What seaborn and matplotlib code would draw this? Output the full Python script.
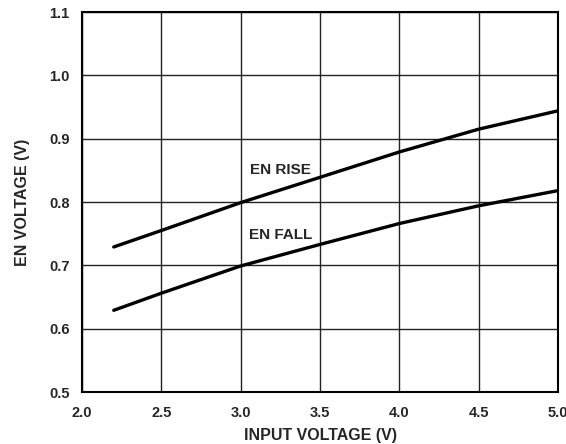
import numpy as np
import pandas as pd
import matplotlib
matplotlib.use("Agg")
import matplotlib.pyplot as plt
import seaborn as sns

# datos
input_voltage = [2.2, 2.5, 3.0, 3.5, 4.0, 4.5, 5.0]
en_rise = [0.729, 0.755, 0.799, 0.839, 0.879, 0.915, 0.944]
en_fall = [0.629, 0.656, 0.699, 0.733, 0.766, 0.794, 0.818]

x_ticks = [2.0, 2.5, 3.0, 3.5, 4.0, 4.5, 5.0]
y_ticks = [0.5, 0.6, 0.7, 0.8, 0.9, 1.0, 1.1]

df = pd.DataFrame({
    "vin": input_voltage * 2,
    "ven": en_rise + en_fall,
    "curva": ["EN RISE"] * len(en_rise) + ["EN FALL"] * len(en_fall),
})

sns.set_style("white")
plt.rcParams["font.family"] = ["Liberation Sans", "DejaVu Sans"]
plt.rcParams["font.weight"] = "bold"

fig, ax = plt.subplots(figsize=(5.66, 4.44), dpi=100)
fig.subplots_adjust(left=82 / 566, right=558 / 566, top=1 - 12 / 444, bottom=1 - 392 / 444)

sns.lineplot(data=df, x="vin", y="ven", hue="curva", palette=["black", "black"],
             linewidth=2.4, legend=False, ax=ax, zorder=3)

ax.set_xlim(2.0, 5.0)
ax.set_ylim(0.5, 1.1)
ax.set_xticks(x_ticks)
ax.set_yticks(y_ticks)
ax.set_xticklabels([f"{v:.1f}" for v in x_ticks], fontsize=10.5, fontweight="bold")
ax.set_yticklabels([f"{v:.1f}" for v in y_ticks], fontsize=10.5, fontweight="bold")
ax.tick_params(axis="both", length=0)
ax.tick_params(axis="x", pad=10)
ax.tick_params(axis="y", pad=9)

ax.grid(True, color="#222222", linewidth=1.0)
for s in ax.spines.values():
    s.set_visible(True)
    s.set_color("black")
    s.set_linewidth(1.5)

ax.set_xlabel("INPUT VOLTAGE (V)", fontsize=11.5, fontweight="bold", labelpad=6)
ax.set_ylabel("EN VOLTAGE (V)", fontsize=11.5, fontweight="bold", labelpad=14)

ax.text(3.25, 0.851, "EN RISE", ha="center", va="center", fontsize=11, fontweight="bold")
ax.text(3.25, 0.748, "EN FALL", ha="center", va="center", fontsize=11, fontweight="bold")

fig.savefig("out.png", dpi=100)
